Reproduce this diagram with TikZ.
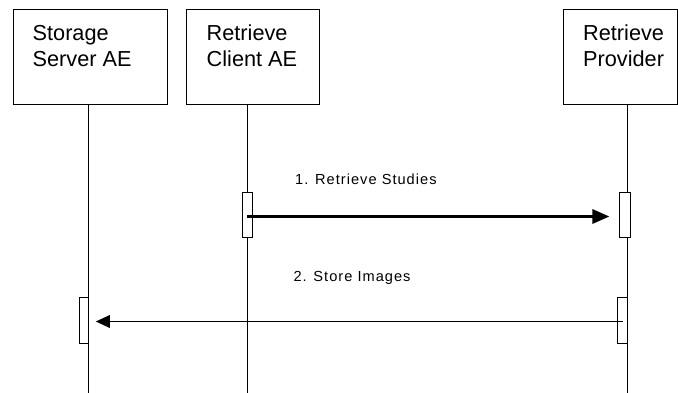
\documentclass[tikz,border=0pt]{standalone}
\usepackage{fontspec}
\setmainfont{Liberation Sans}
\newfontfamily\msgfont[LetterSpace=7]{Liberation Sans}
\usetikzlibrary{arrows.meta}
\tikzset{
  actor/.style={draw=black, line width=1pt, fill=white, inner sep=0pt},
  actortext/.style={anchor=north west, inner sep=0pt, align=left,
    font=\fontsize{21.7pt}{26pt}\selectfont},
  lifeline/.style={draw=black, line width=1.1pt},
  activation/.style={draw=black, line width=1pt, fill=white, inner sep=0pt, minimum height=45pt},
  msgtext/.style={anchor=base west, inner sep=0pt, font=\msgfont\fontsize{14.6pt}{17pt}\selectfont},
  callmsg/.style={line width=3pt, -{Triangle[length=17pt,width=14pt]}},
  retmsg/.style={line width=1.8pt, -{Triangle[length=14pt,width=12.5pt]}}
}
\begin{document}
\begin{tikzpicture}[x=1pt,y=-1pt]
\useasboundingbox (0,0) rectangle (678,393);
% actor boxes
\node[actor, minimum width=154pt, minimum height=95pt] (ssa) at (90,57.5) {};
\node[actor, minimum width=133pt, minimum height=95pt] (rca) at (252.5,57.5) {};
\node[actor, minimum width=114pt, minimum height=95pt] (rp) at (620,57.5) {};
\node[actortext] (ssat) at (32.5,24.7) {Storage\\Server AE};
\node[actortext] (rcat) at (206.5,24.7) {Retrieve\\Client AE};
\node[actortext] (rpt) at (583,24.7) {Retrieve\\Provider};
% lifeline ends
\coordinate (ssaend) at (88.7,393);
\coordinate (rcaend) at (247.5,393);
\coordinate (rpend) at (627.3,393);
\draw[lifeline] (ssa.south -| ssaend) -- (ssaend);
\draw[lifeline] (rca.south -| rcaend) -- (rcaend);
\draw[lifeline] (rp.south -| rpend) -- (rpend);
% activations
\node[activation, minimum width=10pt] (a1) at (247.3,215) {};
\node[activation, minimum width=10.7pt] (a2) at (625.3,215) {};
\node[activation, minimum width=9.6pt, minimum height=46pt] (a3) at (622.5,320.2) {};
\node[activation, minimum width=9.4pt, minimum height=46pt] (a4) at (84,320.2) {};
% messages
\draw[callmsg] ([yshift=-1.5pt]a1.center) -- ([xshift=-10pt,yshift=-1.5pt]a2.west);
\draw[retmsg] ([yshift=-1.3pt]a3.center) -- ([xshift=6.6pt,yshift=-1.3pt]a4.east);
\node[msgtext] (m1) at (295,184.3) {1. Retrieve Studies};
\node[msgtext] (m2) at (293.3,281.3) {2. Store Images};
\end{tikzpicture}
\end{document}
